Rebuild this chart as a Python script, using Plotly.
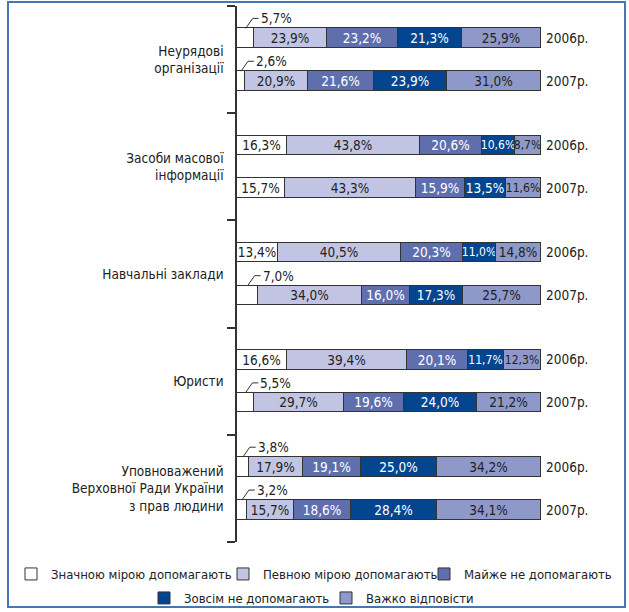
import plotly.graph_objects as go

groups = ["Неурядові<br>організації", "Засоби масової<br>інформації", "Навчальні заклади",
          "Юристи", "Уповноважений<br>Верховної Ради України<br>з прав людини"]
years = ["2006р.", "2007р."]
series_names = ["Значною мірою допомагають", "Певною мірою допомагають", "Майже не допомагають",
                "Зовсім не допомагають", "Важко відповісти"]

# rows: group0-2006, group0-2007, group1-2006, ...
s_znachnoyu = [5.7, 2.6, 16.3, 15.7, 13.4, 7.0, 16.6, 5.5, 3.8, 3.2]
s_pevnoyu = [23.9, 20.9, 43.8, 43.3, 40.5, 34.0, 39.4, 29.7, 17.9, 15.7]
s_mayzhe = [23.2, 21.6, 20.6, 15.9, 20.3, 16.0, 20.1, 19.6, 19.1, 18.6]
s_zovsim = [21.3, 23.9, 10.6, 13.5, 11.0, 17.3, 11.7, 24.0, 25.0, 28.4]
s_vazhko = [25.9, 31.0, 8.7, 11.6, 14.8, 25.7, 12.3, 21.2, 34.2, 34.1]
series_values = [s_znachnoyu, s_pevnoyu, s_mayzhe, s_zovsim, s_vazhko]

colors = ["#ffffff", "#c1c5e3", "#5f6fae", "#03468f", "#8e99c9"]
text_colors = ["#222222", "#222222", "#ffffff", "#ffffff", "#222222"]
FONT = "DejaVu Sans Condensed, Liberation Sans Narrow, sans-serif"
FS = 13.5
FS_SMALL = 12
FS_LEGEND = 13
OUTSIDE_LIMIT = 8.0   # first segment labels placed above the bar
NARROW_LIMIT = 12.5   # narrow segments get a smaller label
OFFSET = 0.2
BAR_W = 0.182

positions = []
year_labels = []
for gi in range(len(groups)):
    for yi in range(len(years)):
        positions.append(gi + 0.5 + (-OFFSET if yi == 0 else OFFSET))
        year_labels.append(years[yi])

def fmt(v):
    return f"{v:.1f}".replace(".", ",") + "%"

fig = go.Figure()
legend_ids = ["legend", "legend2", "legend3", "legend4", "legend5"]
for si, (name, vals) in enumerate(zip(series_names, series_values)):
    texts, sizes = [], []
    for v in vals:
        texts.append("" if (si == 0 and v < OUTSIDE_LIMIT) else fmt(v))
        sizes.append(FS_SMALL if v < NARROW_LIMIT else FS)
    fig.add_trace(go.Bar(
        name=name, y=positions, x=vals, orientation="h", width=BAR_W,
        marker=dict(color=colors[si], line=dict(color="#333333", width=1)),
        text=texts, textposition="inside", insidetextanchor="middle", textangle=0,
        constraintext="none",
        insidetextfont=dict(family=FONT, size=sizes, color=text_colors[si]),
        legend=legend_ids[si], hoverinfo="skip",
    ))

# invisible trace so the right-hand year axis is drawn
fig.add_trace(go.Scatter(x=[0] * len(positions), y=positions, yaxis="y2", mode="markers",
                         marker=dict(opacity=0), showlegend=False, hoverinfo="skip"))

# leader lines + labels for small first segments
for v, p in zip(s_znachnoyu, positions):
    if v < OUTSIDE_LIMIT:
        top = p - BAR_W / 2
        fig.add_shape(type="path", xref="x", yref="y", xsizemode="pixel", ysizemode="pixel",
                      xanchor=v / 2, yanchor=top, path="M0,0 L7,10 L13,10",
                      line=dict(color="#333333", width=1))
        fig.add_annotation(x=v / 2, y=top, xref="x", yref="y", text=fmt(v), showarrow=False,
                           xanchor="left", yanchor="middle", xshift=13, yshift=10,
                           font=dict(family=FONT, size=FS, color="#222222"))

# page geometry
L, R, T, B, W, H = 237, 88, 6, 70, 629, 612
pw, ph = W - L - R, H - T - B
def px2x(px):
    return (px - L) / pw
def py2y(py):
    return (H - B - py) / ph

# outer frame
fig.add_shape(type="rect", xref="paper", yref="paper", x0=px2x(8), x1=px2x(625),
              y0=py2y(607), y1=py2y(2), line=dict(color="#4676b4", width=2), layer="below")

# legends (two rows)
legend_pos = [(30, 574), (242, 574), (443, 574), (163, 598), (345, 598)]
layout_legends = {}
for lid, (bx, by) in zip(legend_ids, legend_pos):
    layout_legends[lid] = dict(x=px2x(bx - 19), y=py2y(by), xanchor="left", yanchor="middle",
                               orientation="h", bgcolor="rgba(0,0,0,0)", borderwidth=0,
                               font=dict(family=FONT, size=FS_LEGEND, color="#222222"))

fig.update_layout(
    width=W, height=H, margin=dict(l=L, r=R, t=T, b=B, autoexpand=False),
    paper_bgcolor="white", plot_bgcolor="white",
    barmode="stack", bargap=0, showlegend=True,
    font=dict(family=FONT, size=FS, color="#222222"),
    xaxis=dict(range=[0, 100], visible=False, fixedrange=True),
    yaxis=dict(range=[len(groups), 0], tickmode="array",
               tickvals=[g + 0.5 for g in range(len(groups))], ticktext=groups,
               ticks="", showgrid=False, zeroline=False, showline=True,
               linecolor="#333333", linewidth=1.5, ticklabelstandoff=9,
               minor=dict(tickmode="array", tickvals=list(range(len(groups) + 1)),
                          ticks="outside", ticklen=8, tickcolor="#333333", tickwidth=1.5,
                          showgrid=False),
               tickfont=dict(family=FONT, size=FS, color="#222222")),
    yaxis2=dict(range=[len(groups), 0], overlaying="y", side="right", tickmode="array",
                tickvals=positions, ticktext=year_labels, ticks="", showgrid=False,
                zeroline=False, showline=False, ticklabelstandoff=4,
                tickfont=dict(family=FONT, size=FS, color="#222222")),
    **layout_legends,
)

fig.write_html("out.html", config={"displayModeBar": False},
               post_script="document.body.style.margin='0';")
